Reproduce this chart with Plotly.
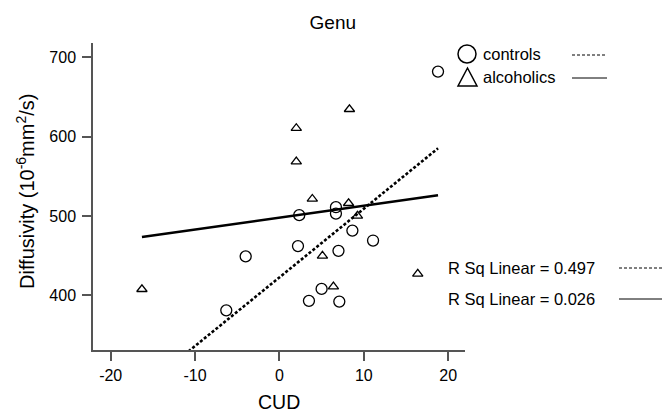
import numpy as np
import plotly.graph_objects as go

# ---- data ----
controls_cud = [18.8, 2.35, 6.7, 6.7, 8.65, 11.1, 2.2, 7.0, -4.0, -6.3, 3.5, 5.0, 7.1]
controls_diff = [682, 501, 511, 503, 481.5, 469, 462, 456, 449, 381, 393, 408, 392]
alcoholics_cud = [-16.3, 8.3, 2.0, 2.0, 3.9, 8.2, 9.25, 5.1, 6.4, 16.4]
alcoholics_diff = [407.6, 634.5, 610.6, 568.5, 521.4, 516, 500, 449.6, 411, 427]
legend_labels = ["controls", "alcoholics"]
rsq_labels = ["R Sq Linear = 0.497", "R Sq Linear = 0.026"]
x_ticks = [-20, -10, 0, 10, 20]
x_tick_labels = ["-20", "-10", "0", "10", "20"]
y_ticks = [400, 500, 600, 700]
x_title = "CUD"
y_title = "Diffusivity (10<sup>-6</sup>mm<sup>2</sup>/s)"

W, H = 662, 409
L, R, T, B = 93, 465, 43, 350  # plot area in pixels
FONT = "Liberation Sans, Arial, Helvetica, sans-serif"


def px(x):
    return (x - L) / (R - L)


def py(y):
    return (B - y) / (B - T)


all_x = controls_cud + alcoholics_cud
xfit = np.array([min(all_x), max(all_x)])

fig = go.Figure()

# fit lines
for xs, ys, dash in [(controls_cud, controls_diff, "3px,2px"),
                     (alcoholics_cud, alcoholics_diff, "solid")]:
    k, b = np.polyfit(xs, ys, 1)
    fig.add_trace(go.Scatter(x=xfit, y=k * xfit + b, mode="lines",
                             line=dict(color="black", width=2.6, dash=dash),
                             showlegend=False, hoverinfo="skip"))

fig.add_trace(go.Scatter(x=controls_cud, y=controls_diff, mode="markers",
                         marker=dict(symbol="circle-open", size=11,
                                     color="black", line=dict(width=1.3)),
                         name=legend_labels[0], showlegend=False))
fig.add_trace(go.Scatter(x=alcoholics_cud, y=alcoholics_diff, mode="markers",
                         marker=dict(symbol="triangle-up-open", size=9,
                                     color="black", line=dict(width=1.3)),
                         name=legend_labels[1], showlegend=False))

shapes = []
annotations = []

# custom legend (top right)
leg_rows = [54, 77]
# circle marker
shapes.append(dict(type="circle", xref="paper", yref="paper",
                   x0=px(458), x1=px(476), y0=py(45), y1=py(63),
                   line=dict(color="black", width=1.5)))
# triangle marker
tx0, tx1, ty0, ty1 = px(458), px(477), py(86), py(68)
shapes.append(dict(type="path", xref="paper", yref="paper",
                   path=f"M {tx0} {ty0} L {tx1} {ty0} L {(tx0 + tx1) / 2} {ty1} Z",
                   line=dict(color="black", width=1.5)))
for i, (lab, dash) in enumerate(zip(legend_labels, ["3px,2px", "solid"])):
    yrow = leg_rows[i]
    annotations.append(dict(text=lab, xref="paper", yref="paper",
                            x=px(481), y=py(yrow), xanchor="left", yanchor="middle",
                            showarrow=False, font=dict(size=16.5, family=FONT, color="black")))
    shapes.append(dict(type="line", xref="paper", yref="paper",
                       x0=px(572), x1=px(607), y0=py(yrow + 1), y1=py(yrow + 1),
                       line=dict(color="black", width=1, dash=dash)))

# R squared labels
rsq_rows = [268, 299]
for i, (lab, dash) in enumerate(zip(rsq_labels, ["3px,2px", "solid"])):
    yrow = rsq_rows[i]
    annotations.append(dict(text=lab, xref="paper", yref="paper",
                            x=px(446), y=py(yrow), xanchor="left", yanchor="middle",
                            showarrow=False, font=dict(size=16.5, family=FONT, color="black")))
    shapes.append(dict(type="line", xref="paper", yref="paper",
                       x0=px(619), x1=px(662), y0=py(yrow), y1=py(yrow),
                       line=dict(color="black", width=1, dash=dash)))

# axis titles
annotations.append(dict(text=x_title, xref="paper", yref="paper",
                        x=px(279), y=py(402), xanchor="center", yanchor="middle",
                        showarrow=False, font=dict(size=19.5, family=FONT, color="black")))
annotations.append(dict(text=y_title, xref="paper", yref="paper",
                        x=px(25), y=py(192), xanchor="center", yanchor="middle",
                        textangle=-90, showarrow=False,
                        font=dict(size=20, family=FONT, color="black")))

fig.update_layout(
    width=W, height=H,
    margin=dict(l=L, r=W - R, t=T, b=H - B, autoexpand=False),
    plot_bgcolor="white", paper_bgcolor="white",
    font=dict(family=FONT, size=16, color="black"),
    title=dict(text="Genu", x=px(280), xanchor="center", y=1 - 22 / H, yanchor="middle",
               font=dict(size=19, family=FONT, color="black"), automargin=False),
    xaxis=dict(range=[-22.1, 22.0], tickvals=x_ticks, ticktext=x_tick_labels,
               ticks="outside", ticklen=9, ticklabelstandoff=1, automargin=False,
               tickwidth=1.5, tickcolor="#555555", showline=True, linecolor="#555555",
               linewidth=1.5, showgrid=False, zeroline=False,
               tickfont=dict(size=16, family=FONT)),
    yaxis=dict(range=[331, 718], tickvals=y_ticks, ticks="outside", ticklen=9,
               ticklabelstandoff=3, automargin=False,
               tickwidth=1.5, tickcolor="#555555", showline=True, linecolor="#555555",
               linewidth=1.5, showgrid=False, zeroline=False,
               tickfont=dict(size=16, family=FONT)),
    shapes=shapes, annotations=annotations, showlegend=False,
)

fig.write_html("out.html")
